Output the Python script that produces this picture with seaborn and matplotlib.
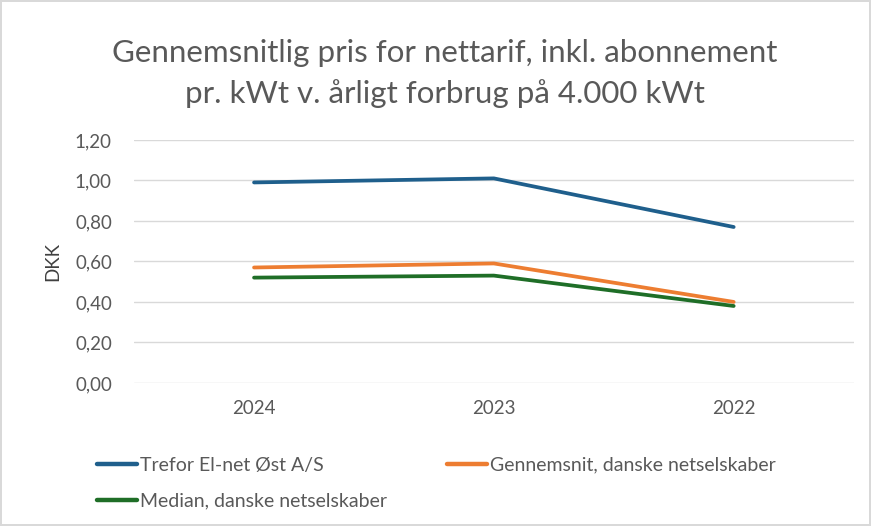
import matplotlib
matplotlib.use("Agg")
import matplotlib.pyplot as plt
import seaborn as sns
import pandas as pd

years = ["2024", "2023", "2022"]
trefor = [0.99, 1.01, 0.77]
gennemsnit = [0.57, 0.59, 0.40]
median = [0.52, 0.53, 0.38]
series_names = ["Trefor El-net Øst A/S", "Gennemsnit, danske netselskaber", "Median, danske netselskaber"]
yticks = [0.0, 0.2, 0.4, 0.6, 0.8, 1.0, 1.2]
ytick_labels = ["0,00", "0,20", "0,40", "0,60", "0,80", "1,00", "1,20"]
title = "Gennemsnitlig pris for nettarif, inkl. abonnement\npr. kWt v. årligt forbrug på 4.000 kWt"

sns.set_theme(style="white")
plt.rcParams['font.family'] = ['Lato', 'DejaVu Sans']

rows = []
for name, vals in zip(series_names, [trefor, gennemsnit, median]):
    for y, v in zip(years, vals):
        rows.append({"År": y, "DKK": v, "Serie": name})
df = pd.DataFrame(rows)

colors = {series_names[0]: "#1f5f8c", series_names[1]: "#ed7d31", series_names[2]: "#1f6e27"}

fig = plt.figure(figsize=(8.71, 5.26), dpi=100)
fig.patch.set_edgecolor("#d9d9d9")
fig.patch.set_linewidth(1.5)
ax = fig.add_axes([0.154, 0.272, 0.826, 0.462])

sns.lineplot(data=df, x="År", y="DKK", hue="Serie", palette=colors, ax=ax,
             linewidth=2.7, sort=False, legend=True)
for line in ax.lines:
    line.set_solid_capstyle("round")

ax.set_xlim(-0.5, 2.5)
ax.set_ylim(0, 1.2)
ax.set_yticks(yticks)
ax.set_yticklabels(ytick_labels)
ax.yaxis.grid(True, color="#d9d9d9", linewidth=1)
ax.xaxis.grid(False)
for s in ax.spines.values():
    s.set_visible(False)
ax.tick_params(axis="both", colors="#595959", labelsize=13.5, length=0)
ax.tick_params(axis="y", pad=16)
ax.tick_params(axis="x", pad=12)
ax.set_xlabel("")
ax.set_ylabel("DKK", color="#404040", fontsize=13.5, labelpad=10)

fig.text(0.511, 0.86, title, ha="center", va="center", fontsize=22.5,
         color="#595959", linespacing=1.5)

handles, labels = ax.get_legend_handles_labels()
ax.get_legend().remove()
order = [0, 2, 1]
leg = fig.legend([handles[i] for i in order], [labels[i] for i in order],
                 loc="upper left", bbox_to_anchor=(0.091, 0.165), ncol=2,
                 frameon=False, fontsize=14, handlelength=2.05, handletextpad=0.15,
                 columnspacing=3.1, labelspacing=0.97, labelcolor="#595959")
for h in leg.get_lines():
    h.set_linewidth(3.2)

fig.savefig("out.png", dpi=100)
